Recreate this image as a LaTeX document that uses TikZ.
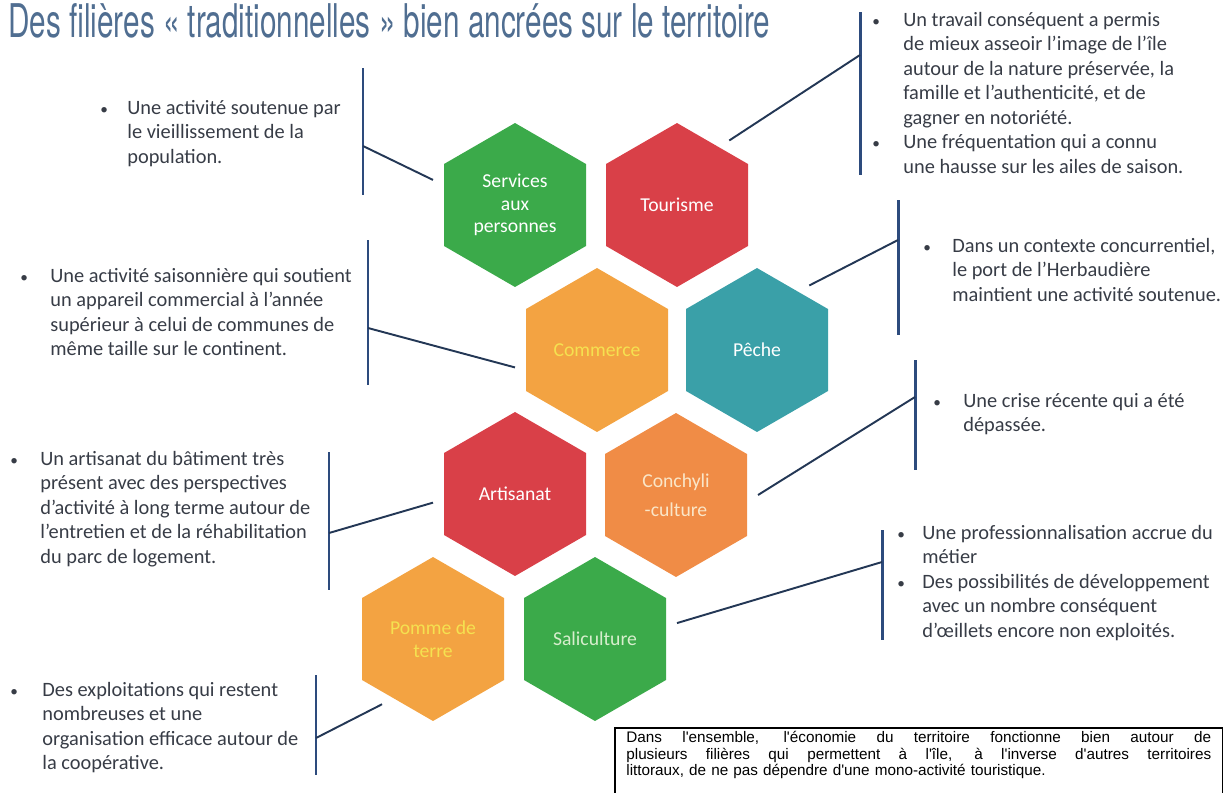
\documentclass[tikz,border=0pt]{standalone}
\usepackage{fontspec}
\usepackage{graphicx}
\setmainfont{Carlito}
\newfontfamily\titrefont{TeX Gyre Heros}
\newfontfamily\boitefont{Liberation Sans}
\usetikzlibrary{shapes.geometric,
	positioning,
	calc}
\definecolor{vert}{RGB}{59,170,74}
\definecolor{rouge}{RGB}{217,64,72}
\definecolor{orange}{RGB}{243,163,66}
\definecolor{orangefonce}{RGB}{240,140,70}
\definecolor{bleu}{RGB}{58,160,168}
\definecolor{jaune}{RGB}{245,225,80}
\definecolor{creme}{RGB}{250,230,200}
\definecolor{vertclair}{RGB}{215,238,205}
\definecolor{encre}{RGB}{55,60,70}
\definecolor{titrecol}{RGB}{80,110,145}
\definecolor{barrecol}{RGB}{45,75,125}
\definecolor{liencol}{RGB}{35,55,85}
\newcommand{\puce}{\scalebox{0.75}{\textbullet}}
\newcommand{\bloc}[2][0.6cm]{\begin{tabular}[t]{@{}p{#1}@{}l@{}}#2\end{tabular}}
\newcommand{\ligne}[1]{\makebox[11.7cm][s]{\spaceskip=0.28em plus 1fil\relax #1}}

\begin{document}
\begin{tikzpicture}[x=0.02cm,y=-0.02cm,
	hexa/.style={regular polygon, regular polygon sides=6, shape border rotate=30,
		minimum size=3.28cm, inner sep=0pt, outer sep=0.22cm, align=center,
		font=\fontsize{11.2}{12.8}\selectfont},
	note/.style={anchor=base west, inner sep=0pt, text=encre,
		font=\fontsize{11.6}{14}\selectfont},
	barre/.style={draw=barrecol, line width=1.7pt},
	lien/.style={draw=liencol, line width=1.1pt}]
	\useasboundingbox (0,0) rectangle (1230,792);
	\clip (0,0) rectangle (1230,792);
	\node[anchor=base west, inner sep=0pt, text=titrecol, font=\titrefont] (titre) at (8,37)
		{\resizebox{15.24cm}{0.68cm}{Des filières «~traditionnelles~» bien ancrées sur le territoire}};
	\foreach \nom/\x/\y/\fond/\ecrit/\txt in {
		serv/515/205/vert/white/{Services\\aux\\personnes},
		tour/677/205/rouge/white/Tourisme,
		comm/597/350/orange/jaune/Commerce,
		peche/757/350/bleu/white/Pêche,
		arti/515/494/rouge/white/Artisanat,
		conch/676/495/orangefonce/creme/{Conchyli\\[0.12cm]-culture},
		pomme/433/639/orange/jaune/{Pomme de\\terre},
		sali/595/639/vert/vertclair/Saliculture} {
		\node[hexa, fill=\fond, text=\ecrit] (\nom) at (\x,\y) {\txt};
	}
	\node[note] (nserv) at (100,114) {\bloc[0.54cm]{\puce & Une activité soutenue par\\
		& le vieillissement de la\\ & population.}};
	\node[note] (ncomm) at (20,282) {\bloc{\puce & Une activité saisonnière qui soutient\\
		& un appareil commercial à l’année\\ & supérieur à celui de communes de\\
		& même taille sur le continent.}};
	\node[note] (narti) at (10,465) {\bloc{\puce & Un artisanat du bâtiment très\\
		& présent avec des perspectives\\ & d’activité à long terme autour de\\
		& l’entretien et de la réhabilitation\\ & du parc de logement.}};
	\node[note] (npomme) at (10,696) {\bloc[0.64cm]{\puce & Des exploitations qui restent\\
		& nombreuses et une\\ & organisation efficace autour de\\ & la coopérative.}};
	\node[note] (ntour) at (872,26) {\bloc[0.62cm]{\puce & Un travail conséquent a permis\\
		& de mieux asseoir l’image de l’île\\ & autour de la nature préservée, la\\
		& famille et l’authenticité, et de\\ & gagner en notoriété.\\
		\puce & Une fréquentation qui a connu\\ & une hausse sur les ailes de saison.}};
	\node[note] (npeche) at (923,252) {\bloc[0.58cm]{\puce & Dans un contexte concurrentiel,\\
		& le port de l’Herbaudière\\ & maintient une activité soutenue.}};
	\node[note] (nconch) at (933,407) {\bloc{\puce & Une crise récente qui a été\\
		& dépassée.}};
	\node[note] (nsali) at (897,539) {\bloc[0.5cm]{\puce & Une professionnalisation accrue du\\
		& métier\\ \puce & Des possibilités de développement\\
		& avec un nombre conséquent\\ & d’œillets encore non exploités.}};
	\draw[barre] (363,68) -- (363,195);
	\draw[barre] (368,240) -- (368,385);
	\draw[barre] (329,452) -- (329,590);
	\draw[barre] (316,675) -- (316,775);
	\draw[barre] (860,12) -- (860,175);
	\draw[barre] (898,200) -- (898,335);
	\draw[barre] (915,360) -- (915,470);
	\draw[barre] (882,530) -- (882,640);
	\coordinate (jserv) at (363,146);
	\coordinate (jcomm) at (368,328);
	\coordinate (jarti) at (329,533);
	\coordinate (jpomme) at (316,738);
	\coordinate (jtour) at (860,55);
	\coordinate (jpeche) at (898,240);
	\coordinate (jconch) at (915,397);
	\coordinate (jsali) at (882,562);
	\draw[lien] (serv.163) -- (jserv);
	\draw[lien] (comm.192) -- (jcomm);
	\draw[lien] (arti.186) -- (jarti);
	\draw[lien] (pomme.232) -- (jpomme);
	\draw[lien] (tour.51) -- (jtour);
	\draw[lien] (peche.51) -- (jpeche);
	\draw[lien] (conch.0) -- (jconch);
	\draw[lien] (sali.11) -- (jsali);
	\node[anchor=north west, inner xsep=0.22cm, inner ysep=0.06cm, text width=11.7cm, align=left,
		font=\boitefont\fontsize{8.7}{9.4}\selectfont, text=black] (synth) at (615,728)
		{\ligne{Dans l'ensemble, l'économie du territoire fonctionne bien autour de}\\
		\ligne{plusieurs filières qui permettent à l'île, à l'inverse d'autres territoires}\\
		littoraux, de ne pas dépendre d'une mono-activité touristique.};
	\draw[line width=0.8pt] ([yshift=-1cm]synth.south west) |- (synth.north east) -- ++(0,-2cm);
\end{tikzpicture}
\end{document}
